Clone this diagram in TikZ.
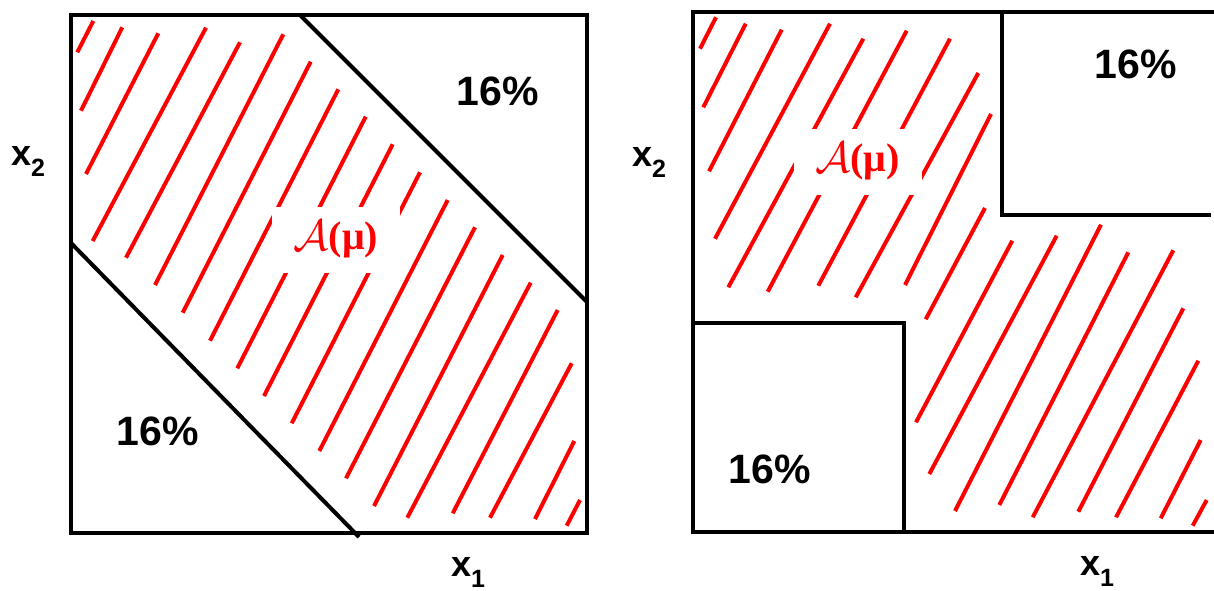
\documentclass[tikz,border=0pt]{standalone}
\usepackage{fontspec}
\setmainfont{Liberation Sans}
\newfontfamily\serifbf{Liberation Serif}
\newcommand{\calA}{\raisebox{-1pt}{\scalebox{4.4}{\fontsize{10}{12}\selectfont$\mathcal{A}$}}}
\begin{document}
\begin{tikzpicture}[x=1pt,y=-1pt,
  frame/.style={line width=4pt, black, line join=miter},
  hatch/.style={line width=4pt, red, line cap=butt},
  pct/.style={inner sep=0pt, font=\fontsize{41}{41}\selectfont\bfseries},
  amu/.style={fill=white, text=red, minimum width=128pt, minimum height=66pt, inner sep=0pt,
              font=\fontsize{40}{40}\selectfont},
  axl/.style={anchor=base west, inner sep=0pt, font=\bfseries}]
\useasboundingbox (0,0) rectangle (1214,590);
\clip (0,0) rectangle (1214,590);
% ---------- left panel hatching ----------
\foreach \a/\b/\c/\d in {93.3/21/77.3/52.3, 122.3/27.3/81/110.7, 158.3/33.3/86/174,
  206/27.7/92.7/241, 240/42.3/126/257.7, 283.3/34.3/155/285, 310.7/61.7/182.7/312.7,
  338.3/89.3/210/340.7, 365.7/116.7/237.3/368.3, 392.7/144.3/264/396, 420/172.3/291.7/423.3,
  447.7/200/319.3/451, 475/227.3/346/478.3, 502.7/255/374/506, 530.7/282.7/407.3/517.7,
  557.7/310/452.7/513.3, 571.7/363.3/490/517.7, 574.3/441/535/519, 580/500/566.7/525.7}
  \draw[hatch] (\a,\b) -- (\c,\d);
% ---------- right panel hatching ----------
\foreach \a/\b/\c/\d in {716/17.3/700/48.7, 745.7/23.7/703.3/107.3, 781.7/29.7/709/171.3,
  830/23.7/715/238.7, 863.3/38.7/728.3/287.3, 906.7/30.7/767.7/291.7, 950/38.7/818.3/285.7,
  978.3/73/855.7/297.3, 991/114/905/285, 985/208/925.7/319.3, 1012.3/240.7/916/422.3,
  1056.7/235.7/929.3/474, 1101/224.7/955/511, 1128.3/252.3/999.3/505, 1173.3/250.3/1032.7/517.3,
  1183.3/308.3/1078.3/511.7, 1198.3/360.7/1116/517.3, 1200.7/440/1160.7/518.3, 1206.7/500/1192.7/525.7}
  \draw[hatch] (\a,\b) -- (\c,\d);
% ---------- labels A(mu) ----------
\node[amu] (amuL) at (336,239.5) {\calA\serifbf\bfseries(μ)};
\node[amu] (amuR) at (857.5,161.5) {\calA\serifbf\bfseries(μ)};
% ---------- left panel frame ----------
\draw[frame] (71,15) rectangle (587,533);
\draw[frame] (300,15) -- (587,302);
\draw[frame] (71,243) -- (359,537);
% ---------- right panel frame ----------
\draw[frame] (1216,11.5) -- (693,11.5) -- (693,532) -- (1216,532);
\draw[frame] (1001.5,11.5) -- (1001.5,214.5) -- (1211,214.5);
\draw[frame] (693,322.5) -- (903.5,322.5) -- (903.5,532);
% ---------- percentages ----------
\node[pct] (p1) at (497.5,91) {16\%};
\node[pct] (p2) at (157.5,431) {16\%};
\node[pct] (p3) at (1135.5,64.7) {16\%};
\node[pct] (p4) at (769.5,469) {16\%};
% ---------- axis labels ----------
\node[axl] (x2L) at (11,165) {\fontsize{36}{36}\selectfont x\raisebox{-11.7pt}{\fontsize{25}{25}\selectfont 2}};
\node[axl] (x1L) at (451,576) {\fontsize{36}{36}\selectfont x\raisebox{-11.7pt}{\fontsize{25}{25}\selectfont 1}};
\node[axl] (x2R) at (632,166) {\fontsize{36}{36}\selectfont x\raisebox{-11.7pt}{\fontsize{25}{25}\selectfont 2}};
\node[axl] (x1R) at (1080,575) {\fontsize{36}{36}\selectfont x\raisebox{-11.7pt}{\fontsize{25}{25}\selectfont 1}};
\end{tikzpicture}
\end{document}
